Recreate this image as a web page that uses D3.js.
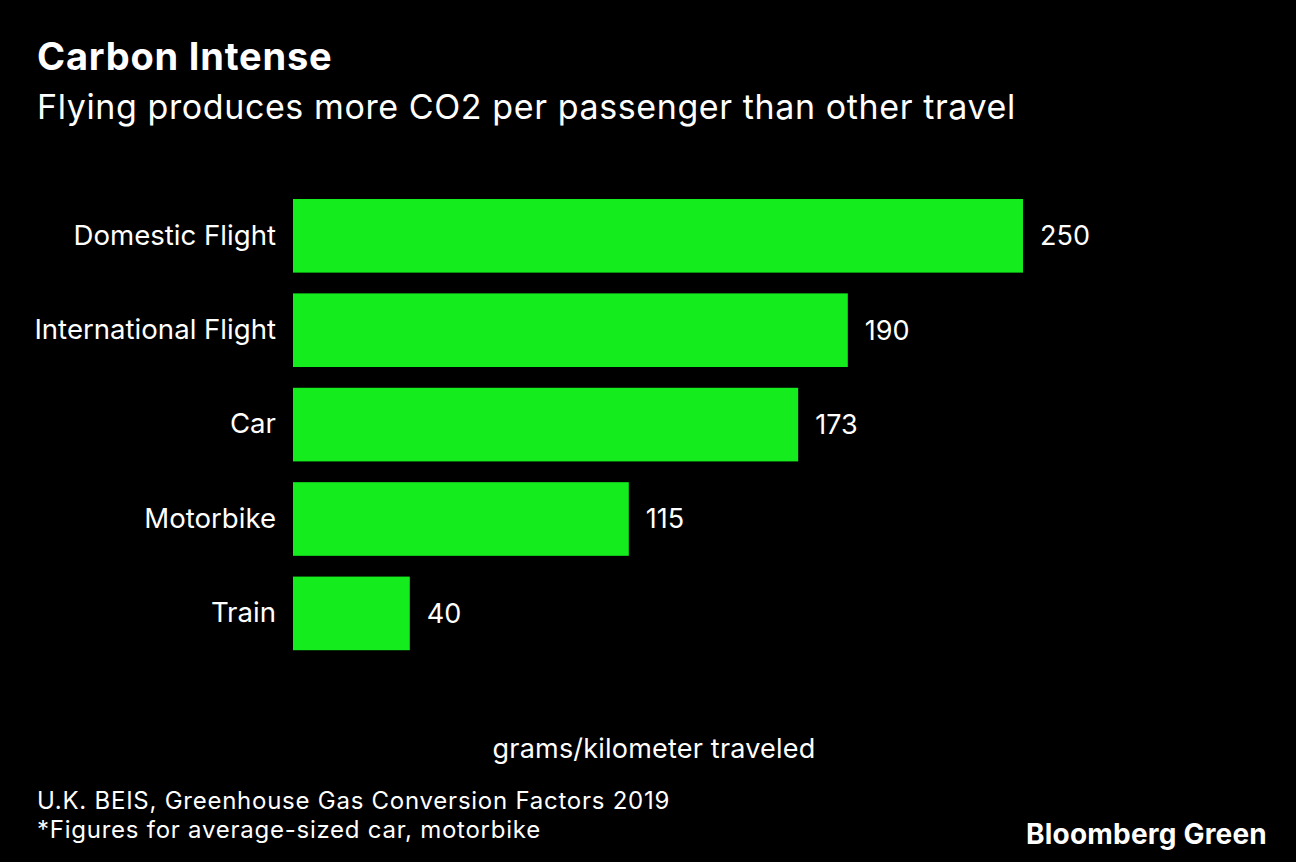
<!DOCTYPE html>
<html>
<head>
<meta charset="utf-8">
<script src="https://cdn.jsdelivr.net/npm/d3@7"></script>
<style>
  html, body { margin: 0; padding: 0; background: #000; }
  svg { display: block; }
  text { font-family: Inter, "Liberation Sans", Arial, sans-serif; fill: #fff; }
</style>
</head>
<body>
<svg id="chart" width="1296" height="862"></svg>
<script>
// values (grams of CO2 per passenger-kilometre)
const categories = ['Domestic Flight', 'International Flight', 'Car', 'Motorbike', 'Train'];
const values = [250, 190, 173, 115, 40];

const title = 'Carbon Intense';
const subtitle = 'Flying produces more CO2 per passenger than other travel';
const axisLabel = 'grams/kilometer traveled';
const sourceLines = ['U.K. BEIS, Greenhouse Gas Conversion Factors 2019',
                     '*Figures for average-sized car, motorbike'];
const brand = 'Bloomberg Green';

const W = 1296, H = 862;
const BAR_COLOR = '#14ec1e';

const svg = d3.select('#chart');

svg.append('rect')
    .attr('width', W)
    .attr('height', H)
    .attr('fill', '#000');

// plot area: bars start at x=293, 250 reaches x=1023
const x = d3.scaleLinear()
    .domain([0, 250])
    .range([293, 1023]);

const y = d3.scaleBand()
    .domain(categories)
    .range([188.6, 660.6])
    .paddingInner(0.22)
    .paddingOuter(0.11);

const data = categories.map((c, i) => ({ name: c, value: values[i] }));

svg.append('g')
    .selectAll('rect')
    .data(data)
    .join('rect')
    .attr('x', x(0))
    .attr('y', d => y(d.name))
    .attr('width', d => x(d.value) - x(0))
    .attr('height', y.bandwidth())
    .attr('fill', BAR_COLOR);

// category labels, right aligned against the bars
const yAxis = svg.append('g')
    .attr('transform', `translate(${x(0)},0)`)
    .call(d3.axisLeft(y).tickSize(0).tickPadding(17));
yAxis.select('.domain').remove();
yAxis.selectAll('text')
    .attr('fill', '#fff')
    .style('font-size', '27.6px')
    .style('font-family', 'Inter, "Liberation Sans", Arial, sans-serif');

// value labels
svg.append('g')
    .selectAll('text')
    .data(data)
    .join('text')
    .attr('x', d => x(d.value) + 17)
    .attr('y', d => y(d.name) + y.bandwidth() / 2)
    .attr('dy', '0.35em')
    .style('font-size', '27px')
    .text(d => d.value);

// headings
svg.append('text')
    .attr('x', 37)
    .attr('y', 70)
    .style('font-size', '38px')
    .style('font-weight', 700)
    .style('letter-spacing', '0.8px')
    .text(title);

svg.append('text')
    .attr('x', 37)
    .attr('y', 119)
    .style('font-size', '34px')
    .style('letter-spacing', '0.6px')
    .text(subtitle);

svg.append('text')
    .attr('x', 654)
    .attr('y', 758)
    .attr('text-anchor', 'middle')
    .style('font-size', '27px')
    .style('letter-spacing', '0.2px')
    .text(axisLabel);

svg.append('g')
    .selectAll('text')
    .data(sourceLines)
    .join('text')
    .attr('x', 37)
    .attr('y', (d, i) => 809 + i * 29)
    .style('font-size', '24px')
    .style('letter-spacing', '0.75px')
    .text(d => d);

svg.append('text')
    .attr('x', 1267)
    .attr('y', 844)
    .attr('text-anchor', 'end')
    .style('font-size', '28px')
    .style('font-weight', 700)
    .style('letter-spacing', '0.2px')
    .text(brand);
</script>
</body>
</html>
